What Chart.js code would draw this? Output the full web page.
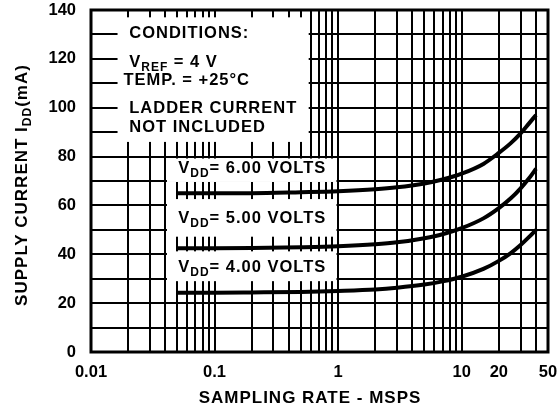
<!DOCTYPE html>
<html>
<head>
<meta charset="utf-8">
<script src="https://cdn.jsdelivr.net/npm/chart.js@4.4.1/dist/chart.umd.min.js"></script>
<style>
  html, body { margin: 0; padding: 0; background: #fff; }
  .box { position: relative; width: 557px; height: 417px; }
</style>
</head>
<body>
<div class="box"><canvas id="chart" width="557" height="417"></canvas></div>
<script>
// ---- data ----
const RATE_MSPS = [0.05, 0.1, 0.2, 0.5, 1, 2, 3, 5, 7, 10, 15, 20, 25, 30, 35, 40];
const IDD_6V    = [65, 65, 65, 65.4, 65.8, 66.6, 67.4, 69, 70.6, 73, 77, 81.5, 85.5, 89.5, 93.5, 97];
const IDD_5V    = [42.5, 42.5, 42.6, 42.9, 43.3, 44.1, 44.9, 46.6, 48.2, 50.7, 54.7, 58.9, 62.9, 67, 71, 75];
const IDD_4V    = [24.3, 24.3, 24.4, 24.6, 25, 25.6, 26.3, 27.6, 28.9, 30.8, 34, 37.3, 40.5, 43.8, 47, 50];

const X_LABELS  = [0.01, 0.1, 1, 10, 20, 50];
const Y_LABELS  = [0, 20, 40, 60, 80, 100, 120, 140];

const FONT = "'Liberation Sans', Arial, sans-serif";

// log grid: 1..9 in every decade, up to 50
const xGrid = [];
[0.01, 0.1, 1, 10].forEach(d => {
  for (let m = 1; m <= 9; m++) if (d * m <= 50 + 1e-9) xGrid.push(+(d * m).toPrecision(6));
});

const pts = ys => RATE_MSPS.map((x, i) => ({ x, y: ys[i] }));

// white boxes that blank the grid behind the notes (data coords)
const blanks = [
  { x0: 0.0164, x1: 0.578, y0: 86, y1: 137 },    // conditions
  { x0: 0.0412, x1: 0.97,  y0: 69.6, y1: 79.2 }, // 6 V label
  { x0: 0.0412, x1: 0.97,  y0: 47.2, y1: 62.6 }, // 5 V label
  { x0: 0.0412, x1: 0.97,  y0: 29,   y1: 41.2 }  // 4 V label
];

// notes: [x, y(center), parts]; a part is [text, isSubscript]
const notes = [
  [0.0204, 130.6, [['CONDITIONS:', 0]]],
  [0.0204, 118.7, [['V', 0], ['REF', 1], [' = 4 V', 0]]],
  [0.0183, 111.3, [['TEMP. = +25°C', 0]]],
  [0.0204, 99.9,  [['LADDER CURRENT', 0]]],
  [0.0204, 92.1,  [['NOT INCLUDED', 0]]],
  [0.0508, 75.3,  [['V', 0], ['DD', 1], ['= 6.00 VOLTS', 0]]],
  [0.0508, 54.8,  [['V', 0], ['DD', 1], ['= 5.00 VOLTS', 0]]],
  [0.0508, 34.8,  [['V', 0], ['DD', 1], ['= 4.00 VOLTS', 0]]]
];

function setFont(ctx, size, sub) {
  ctx.font = `bold ${sub ? Math.round(size * 0.72) : size}px ${FONT}`;
  ctx.letterSpacing = '1px';
}

function partsWidth(ctx, parts, size) {
  let w = 0;
  for (const [t, sub] of parts) { setFont(ctx, size, sub); w += ctx.measureText(t).width; }
  return w;
}

function drawParts(ctx, x, y, parts, size) {
  ctx.textBaseline = 'middle';
  ctx.textAlign = 'left';
  let cx = x;
  for (const [t, sub] of parts) {
    setFont(ctx, size, sub);
    ctx.fillText(t, cx, sub ? y + size * 0.32 : y);
    cx += ctx.measureText(t).width;
  }
}

const decorPlugin = {
  id: 'decor',
  beforeDatasetsDraw(chart) {
    const { ctx, scales: { x, y } } = chart;
    ctx.save();
    ctx.fillStyle = '#fff';
    for (const b of blanks) {
      const l = x.getPixelForValue(b.x0), r = x.getPixelForValue(b.x1);
      const t = y.getPixelForValue(b.y1), btm = y.getPixelForValue(b.y0);
      ctx.fillRect(l, t, r - l, btm - t);
    }
    ctx.fillStyle = '#000';
    for (const [nx, ny, parts] of notes) {
      drawParts(ctx, x.getPixelForValue(nx), y.getPixelForValue(ny), parts, 16.5);
    }
    ctx.restore();
  },
  afterDraw(chart) {
    const { ctx, chartArea: a } = chart;
    ctx.save();
    ctx.strokeStyle = '#000';
    ctx.lineWidth = 3;
    ctx.strokeRect(a.left, a.top, a.right - a.left, a.bottom - a.top);

    // axis titles
    ctx.fillStyle = '#000';
    const xParts = [['SAMPLING RATE - MSPS', 0]];
    const xw = partsWidth(ctx, xParts, 17);
    drawParts(ctx, 310 - xw / 2, 398, xParts, 17);

    const yParts = [['SUPPLY CURRENT I', 0], ['DD', 1], ['(mA)', 0]];
    const w = partsWidth(ctx, yParts, 17);
    ctx.translate(22, 185);
    ctx.rotate(-Math.PI / 2);
    drawParts(ctx, -w / 2, 0, yParts, 17);
    ctx.restore();
  }
};

const line = (ys) => ({
  data: pts(ys),
  borderColor: '#000',
  borderWidth: 4,
  pointRadius: 0,
  cubicInterpolationMode: 'monotone',
  fill: false
});

const chart = new Chart(document.getElementById('chart').getContext('2d'), {
  type: 'line',
  data: { datasets: [line(IDD_6V), line(IDD_5V), line(IDD_4V)] },
  options: {
    responsive: false,
    animation: false,
    layout: { padding: 0 },
    plugins: { legend: { display: false }, tooltip: { enabled: false } },
    scales: {
      x: {
        type: 'logarithmic',
        min: 0.01, max: 50,
        afterBuildTicks: s => { s.ticks = xGrid.map(v => ({ value: v })); },
        afterFit: s => { s.height = 65; s.paddingLeft = 0; s.paddingRight = 9; },
        grid: { color: '#000', lineWidth: 2, drawTicks: false },
        border: { display: false },
        ticks: {
          autoSkip: false, maxRotation: 0, padding: 11,
          color: '#000', font: { family: FONT, size: 16.5, weight: 'bold' },
          callback: v => X_LABELS.some(l => Math.abs(v - l) / l < 1e-6) ? String(v) : ''
        }
      },
      y: {
        min: 0, max: 140,
        afterBuildTicks: s => {
          const t = [];
          for (let v = 0; v <= 140; v += 10) t.push({ value: v });
          s.ticks = t;
        },
        afterFit: s => { s.width = 91; s.paddingTop = 10; s.paddingBottom = 0; },
        grid: { color: '#000', lineWidth: 2, drawTicks: false },
        border: { display: false },
        ticks: {
          padding: 15,
          color: '#000', font: { family: FONT, size: 16.5, weight: 'bold' },
          callback: v => Y_LABELS.includes(v) ? String(v) : ''
        }
      }
    }
  },
  plugins: [decorPlugin]
});
</script>
</body>
</html>
